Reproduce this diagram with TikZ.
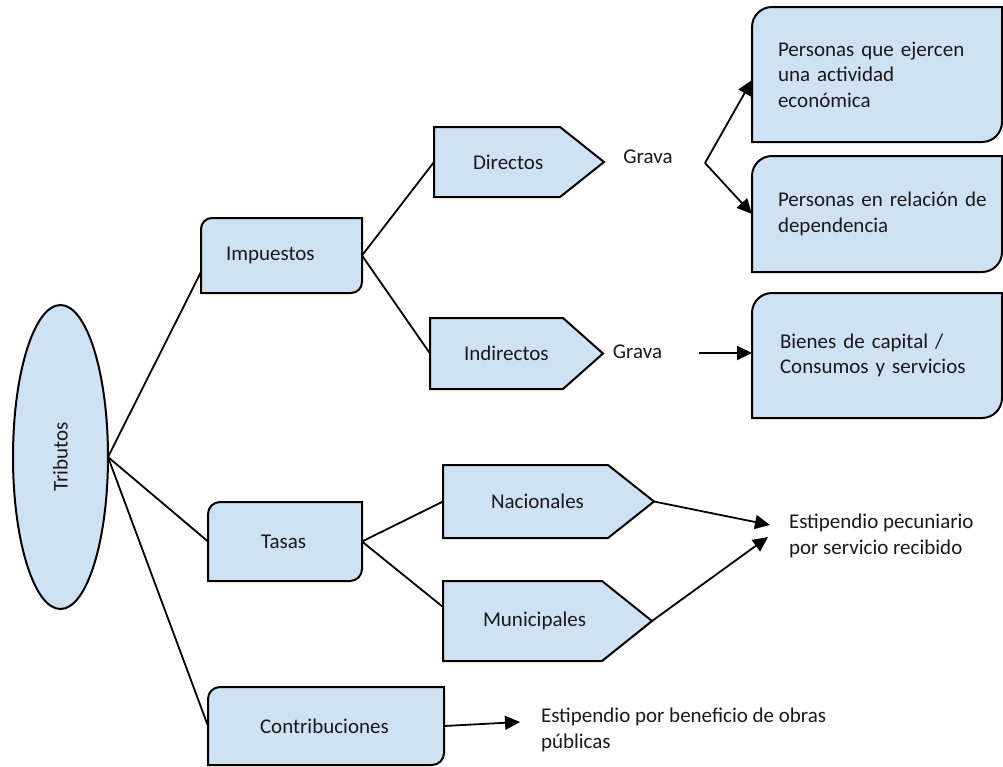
\documentclass[tikz,border=0pt]{standalone}
\usepackage{fontspec}
\setmainfont{Carlito}
\usetikzlibrary{shapes.geometric,arrows.meta,backgrounds}
\definecolor{boxblue}{RGB}{207,226,243}
\definecolor{ink}{RGB}{25,25,25}
\newcommand\rndbox[2]{%
  \draw[shp] (#1.north east) -- ([xshift=#2]#1.north west)
    arc[start angle=90,end angle=180,radius=#2] -- (#1.south west)
    -- ([xshift=-#2]#1.south east)
    arc[start angle=270,end angle=360,radius=#2] -- cycle;}
\newcommand\pentbox[2]{%
  \draw[shp] (#1.north west) -- ([xshift=-#2]#1.north east) -- (#1.east)
    -- ([xshift=-#2]#1.south east) -- (#1.south west) -- cycle;}
\begin{document}
\begin{tikzpicture}[x=1pt,y=1pt,
  every node/.style={font=\fontsize{21}{25.6}\selectfont, text=ink, outer sep=0pt},
  bx/.style={anchor=north west, inner ysep=0pt, align=left},
  shp/.style={draw=black, line width=2pt, fill=boxblue, line join=miter},
  conn/.style={line width=1.8pt},
  arr/.style={line width=1.8pt, -{Triangle[length=15pt,width=14pt]}},
  plain/.style={inner sep=0pt, align=left}
]
\useasboundingbox (0,0) rectangle (1003,-766);

% root
\node[ellipse, shp, minimum width=95pt, minimum height=304pt, inner sep=0pt] (tri) at (60.5,-457) {\rotatebox{90}{Tributos}};

% level 1
\node[bx, minimum width=161pt, minimum height=75pt, inner xsep=25pt, text width=111pt] (imp) at (201,-218) {Impuestos};
\node[bx, minimum width=154pt, minimum height=79pt, inner xsep=53pt, text width=48pt] (tas) at (208,-502) {Tasas};
\node[bx, minimum width=236pt, minimum height=78pt, inner xsep=52pt, text width=132pt] (con) at (208,-687) {Contribuciones};

% level 2
\node[bx, minimum width=170pt, minimum height=70pt, inner xsep=39pt, text width=92pt] (dir) at (434,-127) {Directos};
\node[bx, minimum width=173pt, minimum height=71pt, inner xsep=34pt, text width=105pt] (ind) at (430,-318) {Indirectos};
\node[bx, minimum width=211pt, minimum height=73pt, inner xsep=48pt, text width=115pt] (nac) at (443,-465) {Nacionales};
\node[bx, minimum width=209pt, minimum height=80pt, inner xsep=40pt, text width=129pt] (mun) at (443,-581) {Municipales};

% right boxes
\node[bx, minimum width=250pt, minimum height=135pt, inner xsep=26pt, text width=198pt] (b1) at (752,-7) {Personas que ejercen\\una actividad\\económica};
\node[bx, minimum width=250pt, minimum height=116pt, inner xsep=26pt, text width=198pt] (b2) at (752,-156) {\mbox{Personas en relación de}\\dependencia};
\node[bx, minimum width=250pt, minimum height=125pt, inner xsep=28pt, text width=194pt] (b3) at (752,-293) {Bienes de capital /\\Consumos y servicios};

% texts
\node[plain] (g1) at (648,-157) {Grava};
\node[plain] (g2) at (637.5,-352) {Grava};
\node[plain, anchor=west] (est1) at (789,-536) {Estipendio pecuniario\\por servicio recibido};
\node[plain, anchor=west] (est2) at (541,-730) {Estipendio por beneficio de obras\\públicas};

\coordinate (v1) at (705,-163);
\coordinate (g2s) at (699,-353);

% shapes
\begin{scope}[on background layer]
  \rndbox{imp}{11pt}
  \rndbox{tas}{12pt}
  \rndbox{con}{12pt}
  \rndbox{b1}{20pt}
  \rndbox{b2}{20pt}
  \rndbox{b3}{20pt}
  \pentbox{dir}{44pt}
  \pentbox{ind}{40pt}
  \pentbox{nac}{46pt}
  \pentbox{mun}{50pt}
\end{scope}

% connectors
\draw[conn] (tri.east) -- ([yshift=-16.5pt]imp.west);
\draw[conn] (tri.east) -- (tas.west);
\draw[conn] (tri.east) -- (con.west);
\draw[conn] (imp.east) -- (dir.west);
\draw[conn] (imp.east) -- (ind.west);
\draw[conn] (tas.east) -- (nac.west);
\draw[conn] (tas.east) -- ([yshift=14pt]mun.west);
\draw[arr] (v1) -- ([yshift=-5.5pt]b1.west);
\draw[arr] (v1) -- (b2.west);
\draw[arr] (g2s) -- (g2s -| b3.west);
\draw[arr] (nac.east) -- ([shift={(-19pt,11pt)}]est1.west);
\draw[arr] (mun.east) -- ([shift={(-21pt,-1pt)}]est1.west);
\draw[arr] (con.east) -- ([shift={(-21pt,8pt)}]est2.west);
\end{tikzpicture}
\end{document}
